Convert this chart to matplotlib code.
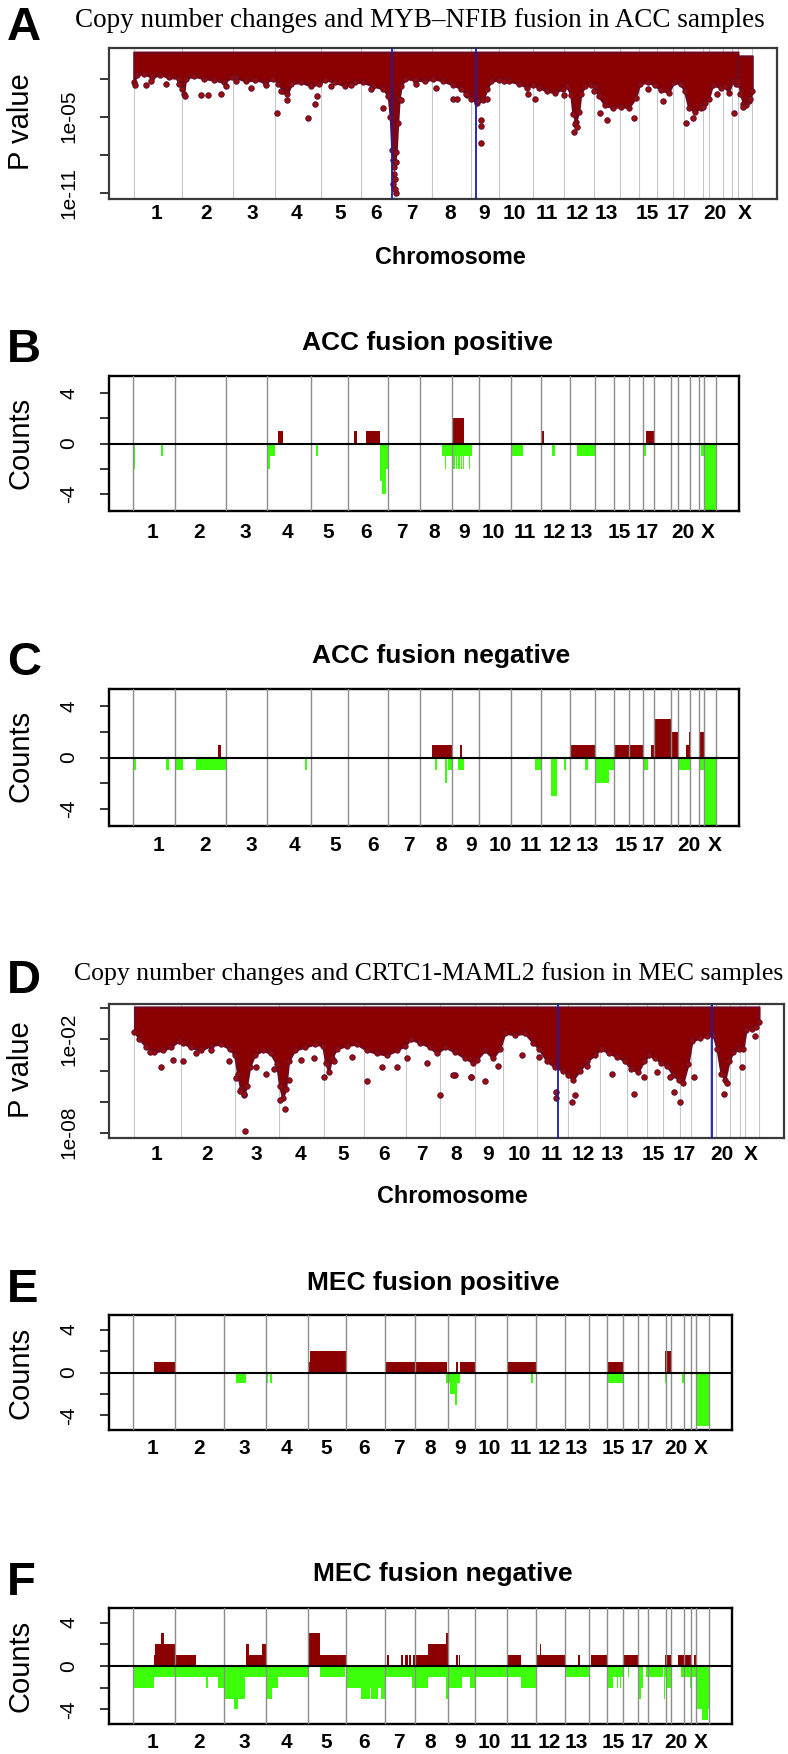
import numpy as np
import matplotlib
matplotlib.use("Agg")
import matplotlib.pyplot as plt
from matplotlib.ticker import FixedLocator, FixedFormatter
from matplotlib.transforms import offset_copy

W, H = 788, 1754
plt.rcParams['font.family'] = ['Liberation Sans', 'DejaVu Sans']

chroms = ['1', '2', '3', '4', '5', '6', '7', '8', '9', '10', '11', '12',
          '13', '14', '15', '16', '17', '18', '19', '20', '21', '22', 'X']
shown = ['1', '2', '3', '4', '5', '6', '7', '8', '9', '10', '11', '12',
         '13', '15', '17', '20', 'X']

# chromosome boundaries (probe index) for each panel
bounds_A = [0, 48, 99, 141.5, 187.5, 227.5, 261, 298.5, 337.5, 365.8, 399.8,
            430.8, 460.8, 487.5, 506.8, 524.2, 540.8, 551.8, 570.8, 576.8,
            590.8, 599.8, 605.8, 619.8]
bounds_BC = [0, 41.7, 92.9, 134.1, 178.4, 215, 254.7, 286.4, 319.1, 346.1,
             377.8, 407.5, 436.8, 461.8, 480.1, 495.1, 509.5, 520.8, 537.8,
             544.1, 556.8, 565.1, 570.1, 582.1]
bounds_D = [0, 46.7, 100.5, 144.2, 189.4, 229.6, 271.3, 305, 340.2, 368.6,
            402.6, 433.6, 465.3, 492, 512, 527.6, 544.6, 556, 574.8, 581.3,
            595.3, 604.6, 610.3, 624]
bounds_EF = [0, 42.2, 91.9, 133.6, 175.8, 213.5, 252.2, 282.9, 315.1, 342.1,
             374.5, 403.5, 432.8, 456.8, 474.5, 490.1, 505.5, 515.1, 533.1,
             538.5, 551.1, 558.5, 563.1, 576.5]

# ---- panel A: -log10(p), ACC, MYB-NFIB
fusion_A = [259, 342.5]
band_A_x = [0, 3, 10, 18, 26, 35, 45, 48.5, 50, 52, 60, 70, 80, 90, 98, 102,
            112, 122, 132, 140, 145, 150, 154, 158, 168, 178, 186, 192, 202,
            212, 222, 230, 240, 250, 255, 257, 258.5, 260, 261.5, 263, 264.5,
            266, 268, 272, 282, 292, 300, 310, 320, 328, 334, 338, 344, 350,
            354, 358, 366, 376, 386, 394, 400, 406, 414, 422, 430, 434, 438,
            440, 443, 446, 448, 452, 458, 462, 466, 472, 480, 488, 496, 503,
            507, 515, 522, 528, 536, 541, 548, 552, 556, 562, 568, 572, 576,
            580, 588, 592, 596, 600, 604, 605.5]
band_A_nlp = [2.3, 1.7, 1.6, 1.9, 1.7, 1.9, 2.0, 2.8, 3.2, 2.0, 1.8, 2.0, 2.1,
              2.3, 1.9, 1.9, 2.2, 2.1, 2.3, 2.0, 2.4, 3.0, 3.2, 2.4, 2.3, 2.6,
              2.4, 2.1, 2.3, 2.6, 2.3, 2.3, 2.6, 2.8, 3.4, 5.0, 7.6, 8.4, 8.6,
              7.8, 5.5, 3.6, 2.6, 2.0, 2.1, 2.2, 2.0, 2.2, 2.5, 2.8, 3.3, 3.6,
              3.9, 3.7, 2.8, 2.2, 2.1, 2.2, 2.4, 2.7, 2.5, 2.7, 3.0, 3.1, 2.8,
              2.6, 3.3, 4.8, 5.4, 4.6, 3.2, 2.6, 2.5, 2.6, 3.4, 4.1, 4.3, 4.2,
              4.3, 3.5, 2.4, 2.3, 2.5, 2.9, 3.1, 2.3, 2.4, 3.0, 4.3, 4.6, 4.3,
              3.9, 3.6, 2.5, 2.7, 2.6, 3.1, 2.2, 2.4, 2.4]
bandX_A_x = [606, 608, 611, 614, 617, 619.8]
bandX_A_nlp = [2.2, 3.2, 4.0, 4.1, 3.8, 3.0]
pts_A_x = [1, 12.5, 17.5, 32.5, 45, 51.5, 67.5, 74, 87.5, 92.5, 102.5, 117.5,
           132.5, 143.5, 147.5, 153.5, 175, 181.5, 184, 197.5, 217.5, 237.5,
           250, 260.5, 261, 262, 260, 262.5, 263, 261.5, 267.5, 282.5, 302.5,
           320, 332.5, 323.5, 344.2, 348.2, 348.2, 348.2, 354.2, 370.8, 394.8,
           402.5, 430.8, 440.8, 442.5, 444.2, 460.8, 467.5, 474.2, 500.8,
           515.8, 530.8, 553.5, 560.8, 570.8, 584.2, 601.5, 610.8, 617.5]
pts_A_nlp = [2.5, 2.5, 2.2, 2.4, 2.4, 3.4, 3.3, 3.3, 3.2, 2.6, 2.2, 2.7,
             2.5, 4.7, 3.0, 3.7, 5.1, 4.0, 3.4, 2.6, 2.5, 2.8,
             4.3, 9.0, 9.5, 9.9, 10.3, 11.0, 8.6, 10.7, 3.7, 2.4, 2.7,
             3.6, 3.2, 3.6, 3.8, 5.3, 5.7, 7.1, 3.6, 2.2, 3.2,
             3.6, 3.3, 6.2, 5.6, 5.8, 3.0, 4.7, 5.3, 5.1,
             2.8, 3.8, 5.5, 5.1, 4.2, 3.2, 4.7, 4.2, 3.6]

# ---- panel D: -log10(p), MEC, CRTC1-MAML2
fusion_D = [423.6, 577]
band_D_x = [0, 5, 12, 20, 28, 36, 44, 48, 56, 66, 76, 86, 95, 100, 103, 106,
            109, 112, 115, 120, 128, 136, 142, 145, 148, 151, 154, 160, 170,
            180, 188, 191, 194, 197, 202, 212, 222, 232, 242, 252, 262, 270,
            276, 285, 295, 302, 310, 320, 330, 338, 342, 350, 358, 365, 370,
            380, 390, 398, 404, 412, 420, 428, 433, 438, 445, 452, 460, 466,
            474, 482, 490, 496, 503, 509, 514, 520, 526, 532, 538, 544, 548,
            553, 557, 565, 572, 578, 582, 586, 590, 594, 598, 604, 608, 611,
            617, 621, 624]
band_D_nlp = [1.5, 2.0, 2.5, 2.8, 2.7, 2.5, 2.1, 2.2, 2.5, 2.7, 2.4, 2.3,
              2.6, 3.0, 4.2, 5.2, 5.6, 5.0, 3.8, 3.0, 2.7, 2.9, 3.6, 5.0,
              5.8, 5.2, 3.4, 2.7, 2.5, 2.3, 2.4, 3.5, 4.1, 3.2, 2.6, 2.4,
              2.3, 2.7, 2.9, 3.0, 2.7, 2.4, 2.0, 2.2, 2.5, 2.9, 2.5, 2.8,
              3.2, 3.5, 3.3, 2.7, 3.2, 2.6, 1.6, 1.7, 1.6, 2.2, 2.6, 3.4,
              3.8, 4.0, 4.3, 4.6, 4.0, 3.4, 3.0, 2.6, 2.9, 3.1, 3.4, 3.9,
              4.1, 3.4, 3.0, 3.2, 3.5, 3.7, 4.3, 4.6, 4.8, 3.6, 2.1, 1.9,
              1.8, 1.7, 2.6, 4.2, 4.6, 3.4, 2.8, 2.6, 2.6, 1.4, 1.3, 1.2, 0.9]
pts_D_x = [15.1, 26.1, 38.7, 48.7, 61.3, 76.4, 94, 101.5, 105, 109, 110.5,
           121.6, 131.6, 139.2, 145.7, 150.2, 154.2, 166.8, 179.4, 189.4,
           199.5, 217, 232.1, 247.2, 262.3, 272.3, 292.4, 305, 320.1, 336.7,
           318.6, 336, 350.3, 363.6, 387, 404.3, 421.3, 421.3, 437, 440.3,
           452, 477, 498.6, 508.6, 522, 535.3, 538.6, 545.3, 558.6, 588.6,
           592, 607, 620.3]
pts_D_nlp = [2.8, 3.8, 3.3, 3.4, 2.9, 2.7, 3.4, 4.5, 5.3, 5.5, 7.9,
             3.8, 4.2, 3.9, 5.9, 6.5, 4.6, 3.3, 3.2, 4.4,
             3.4, 3.1, 4.7, 3.8, 3.8, 3.2, 3.5, 5.6, 4.3, 4.4,
             4.3, 4.4, 4.7, 3.7, 3.0, 3.1, 5.4, 5.8, 6.0, 5.6,
             3.7, 4.2, 5.5, 4.4, 4.1, 4.4, 5.4, 6.0, 4.4, 5.5,
             4.8, 3.8, 1.8]

# ---- count panels: (start, end, count)
gain_B = [(144.7, 149.7, 1), (220.6, 223.6, 1), (233.1, 247.2, 1),
          (319.1, 326.5, 2), (327.2, 328.5, 2), (329.2, 330.8, 2),
          (407.5, 411.1, 1), (512.5, 520.8, 1)]
loss_B = [(0, 2.5, -2), (28.6, 30.1, -1), (134.1, 137.2, -2), (137.2, 142.2, -1),
          (183.4, 185.4, -1), (246.8, 248.7, -3), (248.7, 252.8, -4),
          (252.8, 254.8, -2), (309, 338.5, -1), (311.3, 312.3, -2),
          (319, 321.5, -2), (322.5, 324, -2), (325, 326.5, -2), (327.5, 329, -2),
          (329.8, 331, -2), (335.8, 336.8, -2), (377.8, 389.5, -1),
          (418.8, 421.8, -1), (443.5, 461.8, -1), (509.5, 512.5, -1),
          (567.8, 570.8, -1), (570.8, 582.8, -6)]
gain_C = [(85.4, 88.4, 1), (299, 319.1, 1), (326.8, 328.5, 1), (437.5, 461.8, 1),
          (480.5, 509.5, 1), (517.5, 520.8, 1), (520.8, 538.5, 3),
          (538.5, 544.5, 2), (552.8, 555.1, 1), (555.1, 556.8, 2),
          (565.1, 570.8, 2)]
loss_C = [(0, 3.5, -1), (33.6, 36.1, -1), (41.7, 50.2, -1), (62.8, 92.9, -1),
          (171.8, 173.8, -1), (301.8, 303.8, -1), (311.8, 313.5, -2),
          (315.1, 319.5, -1), (325.1, 330.8, -1), (401.8, 407.5, -1),
          (417.5, 424.1, -3), (431.1, 432.8, -1), (451.8, 454.1, -1),
          (461.8, 475.8, -2), (475.8, 480.5, -1), (509.5, 514.1, -1),
          (544.5, 556.8, -1), (565.1, 570.8, -1), (570.8, 582.8, -6)]
gain_E = [(21.1, 42.2, 1), (175.8, 177.8, 1), (177.8, 214.5, 2), (252.2, 315, 1),
          (324, 325.5, 1), (327.1, 342.8, 1), (374.5, 403.8, 1),
          (474.5, 490.5, 1), (532.1, 538.8, 2)]
loss_E = [(103, 113, -1), (134.1, 135.6, -1), (137, 139, -1), (313.8, 318, -1),
          (318, 323, -2), (323, 325, -3), (325, 327.8, -1), (398.5, 400.5, -1),
          (474.5, 490.5, -1), (532.1, 533.5, -1), (549.8, 551.5, -1),
          (563.8, 576.8, -5)]
gain_F = [(21.1, 22.6, 1), (22.6, 28.6, 2), (28.6, 31.6, 3), (31.6, 42.2, 2),
          (42.2, 63.8, 1), (113, 116.5, 2), (116.5, 129.1, 1), (129.1, 134.1, 2),
          (175.8, 187.4, 3), (187.4, 214.5, 1), (254.8, 256.2, 1),
          (268.3, 270, 1), (272.3, 275, 1), (276.3, 278.3, 1), (280, 282.5, 1),
          (282.9, 296, 1), (296, 314, 2), (314, 316, 3), (323.8, 325.1, 1),
          (326.8, 327.8, 1), (374.5, 388.8, 1), (403.8, 433.8, 1),
          (407.8, 408.8, 2), (445.5, 447.1, 1), (458.8, 475.1, 1),
          (490.1, 505.5, 1), (532.1, 538.8, 1), (545.1, 559.5, 1),
          (561.8, 564.5, 1)]
loss_F = [(0, 21.1, -2), (21.1, 73.8, -1), (73.8, 75.3, -2), (75.3, 85.4, -1),
          (85.4, 91.9, -2), (91.9, 101.5, -3), (101.5, 105.5, -4),
          (105.5, 112.5, -3), (112.5, 133.6, -1), (133.6, 139.7, -3),
          (139.7, 145.7, -2), (145.7, 175.8, -1), (187.4, 212, -1),
          (213.5, 228.6, -2), (228.6, 237.1, -3), (237.1, 238.7, -2),
          (238.7, 245.7, -3), (245.7, 248.7, -2), (248.7, 252.2, -3),
          (252.2, 279.9, -1), (279.9, 296, -2), (296, 314, -1), (314, 316, -3),
          (316, 329.5, -2), (329.5, 337.8, -1), (337.8, 342.1, -2),
          (342.1, 388.8, -1), (388.8, 403.8, -2), (433.8, 457.8, -1),
          (474.5, 480.5, -2), (480.5, 490.5, -1), (484.5, 485.5, -2),
          (487.2, 488.2, -2), (495.1, 496.8, -1), (505.5, 508.8, -3),
          (508.8, 510.5, -2), (513.5, 530.5, -1), (531.5, 532.5, -3),
          (532.5, 534.8, -1), (534.8, 539.1, -2), (548.8, 557.8, -1),
          (557.8, 559.5, -2), (559.5, 563.8, -1), (563.8, 569.5, -4),
          (569.5, 575.5, -5), (575.5, 576.8, -4)]

RED = '#8b0000'
GREEN = '#3cff0a'

fig = plt.figure(figsize=(W / 100, H / 100), dpi=100)


def px_axes(x0, x1, y0, y1):
    return fig.add_axes([x0 / W, 1 - y1 / H, (x1 - x0) / W, (y1 - y0) / H])


def chrom_axis(ax, bounds, shift, pad):
    span = bounds[-1] - bounds[0]
    ax.set_xlim(bounds[0] - 0.04 * span, bounds[-1] + 0.04 * span)
    mids = [(a + b) / 2 + shift for a, b in zip(bounds[:-1], bounds[1:])]
    ax.xaxis.set_major_locator(FixedLocator(mids))
    ax.xaxis.set_major_formatter(FixedFormatter([c if c in shown else '' for c in chroms]))
    ax.tick_params(axis='x', length=0, pad=pad, labelsize=15)
    for t in ax.get_xticklabels():
        t.set_fontweight('bold')


def y_ticks(ax, ticks, labels):
    # R style: tick labels parallel to the axis
    ax.yaxis.set_major_locator(FixedLocator(ticks))
    ax.yaxis.set_minor_locator(FixedLocator([]))
    ax.tick_params(axis='y', length=6.5, width=1.1, labelleft=False)
    tr = offset_copy(ax.get_yaxis_transform(), fig=fig, x=-31, y=0, units='dots')
    for t, s in zip(ticks, labels):
        ax.text(0, t, s, transform=tr, rotation=90, ha='right', va='center',
                fontsize=15)


def manhattan(ax, bounds, bands, pts_x, pts_nlp, fusion, lim, ticks, labels):
    ax.set_yscale('log')
    for b in bounds:
        ax.axvline(b, color='#c8c8c8', lw=0.8, zorder=1)
    for bx, bn, top in bands:
        ax.fill_between(bx, 10 ** -top, 10 ** -np.array(bn), color=RED,
                        edgecolor='#6e0a22', lw=1.5, zorder=2)
        # beaded lower edge, like the overlapping probe dots
        ax.scatter(bx, 10 ** -np.array(bn), s=16, c='#950a0a',
                   edgecolors='#5a1030', linewidths=0.5, zorder=3)
    ax.scatter(pts_x, 10 ** -np.array(pts_nlp), s=16, c='#a00c0c',
               edgecolors='#4c1034', linewidths=0.6, zorder=3)
    for f in fusion:
        ax.axvline(f, color='#1c1ca8', lw=1.3, zorder=4)
    ax.set_ylim(10 ** -lim[1], 10 ** -lim[0])
    y_ticks(ax, [10.0 ** -t for t in ticks], labels)
    for s in ax.spines.values():
        s.set_color('#3a3a3a')
        s.set_linewidth(1.6)


def counts(ax, bounds, gains, losses):
    for seg, col in ((gains, RED), (losses, GREEN)):
        st = [a for a, b, v in seg]
        wd = [b - a for a, b, v in seg]
        vals = [v for a, b, v in seg]
        ax.bar(st, vals, width=wd, align='edge', color=col, lw=0, zorder=2)
    for b in bounds:
        ax.axvline(b, color='#8c8c8c', lw=1.0, zorder=3)
    ax.axhline(0, color='black', lw=1.5, zorder=4)
    ax.set_ylim(-5.35, 5.35)
    y_ticks(ax, [-4, -2, 0, 2, 4], ['-4', '', '0', '', '4'])
    for s in ax.spines.values():
        s.set_linewidth(1.7)


axA = px_axes(109, 777, 48, 199)
manhattan(axA, bounds_A, [(band_A_x, band_A_nlp, -0.1), (bandX_A_x, bandX_A_nlp, 0.2)],
          pts_A_x, pts_A_nlp, fusion_A, (-0.42, 11.5), [11, 8, 5, 2],
          ['1e-11', '', '1e-05', ''])
chrom_axis(axA, bounds_A, -1, 3.5)

axB = px_axes(109.5, 739, 376, 511)
counts(axB, bounds_BC, gain_B, loss_B)
chrom_axis(axB, bounds_BC, -1.5, 8.5)

axC = px_axes(109.5, 739, 689, 826)
counts(axC, bounds_BC, gain_C, loss_C)
chrom_axis(axC, bounds_BC, 5, 7.2)

axD = px_axes(109.5, 784, 1003.5, 1137.5)
manhattan(axD, bounds_D, [(band_D_x, band_D_nlp, -0.1)], pts_D_x, pts_D_nlp,
          fusion_D, (-0.32, 8.32), [0, 2, 4, 6, 8],
          ['', '1e-02', '', '', '1e-08'])
chrom_axis(axD, bounds_D, -1, 5.4)

axE = px_axes(109.5, 732, 1315, 1430)
counts(axE, bounds_EF, gain_E, loss_E)
chrom_axis(axE, bounds_EF, -1, 6.5)

axF = px_axes(109.5, 732, 1608, 1724)
counts(axF, bounds_EF, gain_F, loss_F)
chrom_axis(axF, bounds_EF, -1, 6.5)


def ftext(x, y, s, **kw):
    fig.text(x / W, 1 - y / H, s, **kw)


serif = ['Liberation Serif', 'DejaVu Serif']
ftext(420, 27, 'Copy number changes and MYB\u2013NFIB fusion in ACC samples',
      ha='center', va='baseline', fontsize=19.5, family=serif)
ftext(428.5, 980, 'Copy number changes and CRTC1-MAML2 fusion in MEC samples',
      ha='center', va='baseline', fontsize=18.5, family=serif)

for x, y, s in [(427, 350, 'ACC fusion positive'), (441, 663, 'ACC fusion negative'),
                (433, 1290, 'MEC fusion positive'), (443, 1581, 'MEC fusion negative')]:
    ftext(x, y, s, ha='center', va='baseline', fontsize=19, fontweight='bold')

for y, s in [(40, 'A'), (362, 'B'), (675, 'C'), (993, 'D'), (1302, 'E'), (1595, 'F')]:
    ftext(7, y, s, ha='left', va='baseline', fontsize=34, fontweight='bold')

for y, s in [(122, 'P value'), (443, 'Counts'), (756, 'Counts'), (1070, 'P value'),
             (1373, 'Counts'), (1666, 'Counts')]:
    ftext(21, y, s, ha='center', va='center', rotation=90, fontsize=21)

for x, y in [(450, 264), (452.8, 1203)]:
    ftext(x, y, 'Chromosome', ha='center', va='baseline', fontsize=16.8, fontweight='bold')

fig.savefig('out.png', dpi=100)
